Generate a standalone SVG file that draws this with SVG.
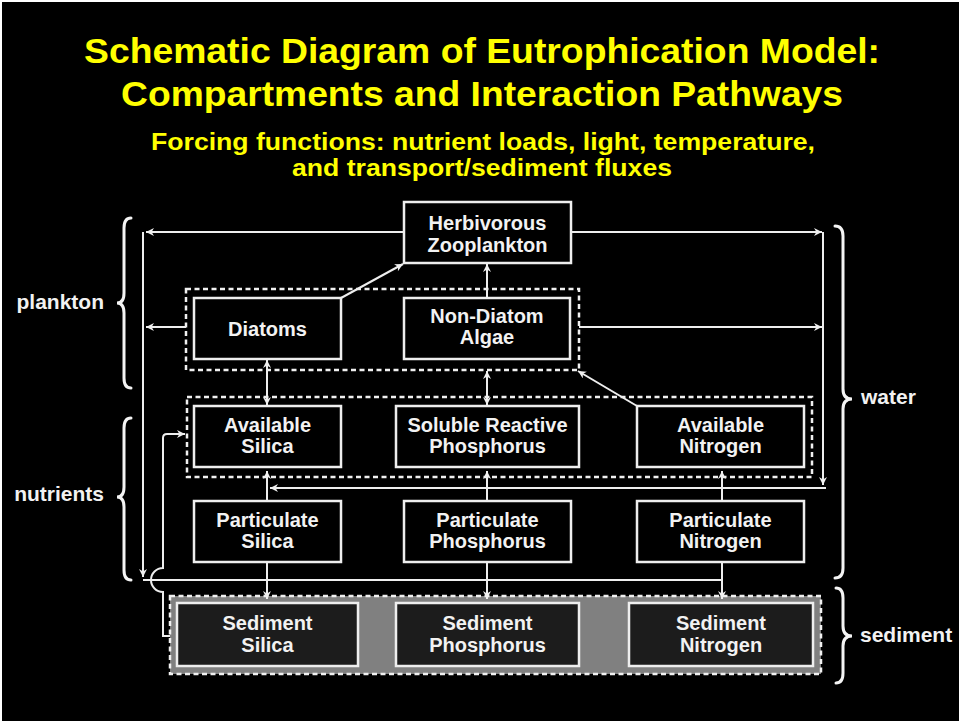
<svg xmlns="http://www.w3.org/2000/svg" width="961" height="723" viewBox="0 0 961 723">
<defs>
<marker id="ah" viewBox="0 0 10 10" refX="10" refY="5" markerWidth="10" markerHeight="8" markerUnits="userSpaceOnUse" orient="auto-start-reverse">
<path d="M0,0 L10,5 L0,10 L3,5 Z" fill="#f0f0f0"/>
</marker>
</defs>
<style>
.title{font-family:"Liberation Sans",Arial,sans-serif;font-weight:bold;fill:#ffff00;text-anchor:middle}
.lbl{font-family:"Liberation Sans",Arial,sans-serif;font-weight:bold;font-size:21px;fill:#f2f2f2}
.nt{font-family:"Liberation Sans",Arial,sans-serif;font-weight:bold;font-size:20px;fill:#f2f2f2;text-anchor:middle}
.box{fill:#000;stroke:#eeeeee;stroke-width:2.5}
.sbox{fill:#1c1c1c;stroke:#eeeeee;stroke-width:2.5}
.dash{fill:none;stroke:#f0f0f0;stroke-width:2.5;stroke-dasharray:5 3.5}
.con{fill:none;stroke:#eeeeee;stroke-width:2}
.arr{marker-end:url(#ah)}
.dbl{marker-start:url(#ah);marker-end:url(#ah)}
.brace{fill:none;stroke:#f4f4f4;stroke-width:3;stroke-linecap:round}
</style>
<rect x="0" y="0" width="961" height="723" fill="#ffffff"/>
<rect x="2" y="2" width="957" height="719" fill="#000000"/>

<g id="titles">
<text class="title" x="482" y="63" font-size="35" textLength="796" lengthAdjust="spacingAndGlyphs">Schematic Diagram of Eutrophication Model:</text>
<text class="title" x="482" y="106" font-size="35" textLength="722" lengthAdjust="spacingAndGlyphs">Compartments and Interaction Pathways</text>
<text class="title" x="483" y="150" font-size="24" textLength="664" lengthAdjust="spacingAndGlyphs">Forcing functions: nutrient loads, light, temperature,</text>
<text class="title" x="482" y="176" font-size="24" textLength="380" lengthAdjust="spacingAndGlyphs">and transport/sediment fluxes</text>
</g>

<g id="groups">
<rect class="dash" x="186" y="289" width="393" height="81"/>
<rect class="dash" x="187" y="397" width="625" height="80"/>
<rect x="170" y="596" width="651" height="78" fill="#808080" stroke="#f0f0f0" stroke-width="2.5" stroke-dasharray="5 3.5"/>
</g>

<g id="connectors">
<path class="con arr" d="M404,232 H146"/>
<path class="con arr" d="M143,232 V577"/>
<path class="con arr" d="M571,232 H822"/>
<path class="con arr" d="M823,232 V485"/>
<path class="con arr" d="M186,327 H146"/>
<path class="con arr" d="M579,327 H822"/>
<path class="con arr" d="M341,298 L403,264"/>
<path class="con arr" d="M487,298 V264"/>
<path class="con dbl" d="M267,360 V405"/>
<path class="con dbl" d="M487,371 V405"/>
<path class="con arr" d="M637,406 L578,371"/>
<path class="con arr" d="M826,488 H270"/>
<path class="con arr" d="M267,501 V471"/>
<path class="con arr" d="M487,501 V471"/>
<path class="con arr" d="M722,501 V471"/>
<path class="con arr" d="M267,562 V599"/>
<path class="con arr" d="M487,562 V599"/>
<path class="con arr" d="M722,562 V599"/>
<path class="con" d="M143,580 H722"/>
<path class="con arr" d="M170,636 H163 V592 A12,12 0 0 1 163,568 V438 Q163,434 167,434 H185"/>
</g>

<g id="braces">
<path class="brace" d="M131,218 Q124,218 124,228 V293 Q124,303 117,303 Q124,303 124,313 V378 Q124,388 131,388"/>
<path class="brace" d="M131,418 Q124,418 124,428 V487 Q124,497 117,497 Q124,497 124,507 V570 Q124,580 131,580"/>
<path class="brace" d="M835,226 Q843,226 843,236 V389 Q843,399 852,399 Q843,399 843,409 V568 Q843,578 835,578"/>
<path class="brace" d="M836,588 Q843,588 843,598 V626 Q843,636 852,636 Q843,636 843,646 V673 Q843,683 836,683"/>
<text class="lbl" x="104" y="309" text-anchor="end">plankton</text>
<text class="lbl" x="104" y="501" text-anchor="end">nutrients</text>
<text class="lbl" x="861" y="404">water</text>
<text class="lbl" x="860" y="642">sediment</text>
</g>

<g id="zooplankton">
<rect class="box" x="404" y="202" width="167" height="61"/>
<text class="nt" x="487.5" y="230">Herbivorous</text>
<text class="nt" x="487.5" y="252">Zooplankton</text>
</g>
<g id="diatoms">
<rect class="box" x="194" y="298" width="147" height="61"/>
<text class="nt" x="267.5" y="336">Diatoms</text>
</g>
<g id="nondiatom">
<rect class="box" x="404" y="298" width="166" height="61"/>
<text class="nt" x="487" y="323">Non-Diatom</text>
<text class="nt" x="487" y="344">Algae</text>
</g>
<g id="availsilica">
<rect class="box" x="194" y="406" width="147" height="61"/>
<text class="nt" x="267.5" y="432">Available</text>
<text class="nt" x="267.5" y="453">Silica</text>
</g>
<g id="srp">
<rect class="box" x="396" y="406" width="183" height="61"/>
<text class="nt" x="487.5" y="432">Soluble Reactive</text>
<text class="nt" x="487.5" y="453">Phosphorus</text>
</g>
<g id="availnitrogen">
<rect class="box" x="637" y="406" width="167" height="61"/>
<text class="nt" x="720.5" y="432">Available</text>
<text class="nt" x="720.5" y="453">Nitrogen</text>
</g>
<g id="partsilica">
<rect class="box" x="194" y="501" width="147" height="61"/>
<text class="nt" x="267.5" y="527">Particulate</text>
<text class="nt" x="267.5" y="548">Silica</text>
</g>
<g id="partphos">
<rect class="box" x="404" y="501" width="167" height="61"/>
<text class="nt" x="487.5" y="527">Particulate</text>
<text class="nt" x="487.5" y="548">Phosphorus</text>
</g>
<g id="partnitrogen">
<rect class="box" x="637" y="501" width="167" height="61"/>
<text class="nt" x="720.5" y="527">Particulate</text>
<text class="nt" x="720.5" y="548">Nitrogen</text>
</g>
<g id="sedsilica">
<rect class="sbox" x="177" y="603" width="181" height="63"/>
<text class="nt" x="267.5" y="630">Sediment</text>
<text class="nt" x="267.5" y="652">Silica</text>
</g>
<g id="sedphos">
<rect class="sbox" x="396" y="603" width="183" height="63"/>
<text class="nt" x="487.5" y="630">Sediment</text>
<text class="nt" x="487.5" y="652">Phosphorus</text>
</g>
<g id="sednitrogen">
<rect class="sbox" x="629" y="603" width="184" height="63"/>
<text class="nt" x="721" y="630">Sediment</text>
<text class="nt" x="721" y="652">Nitrogen</text>
</g>
</svg>
